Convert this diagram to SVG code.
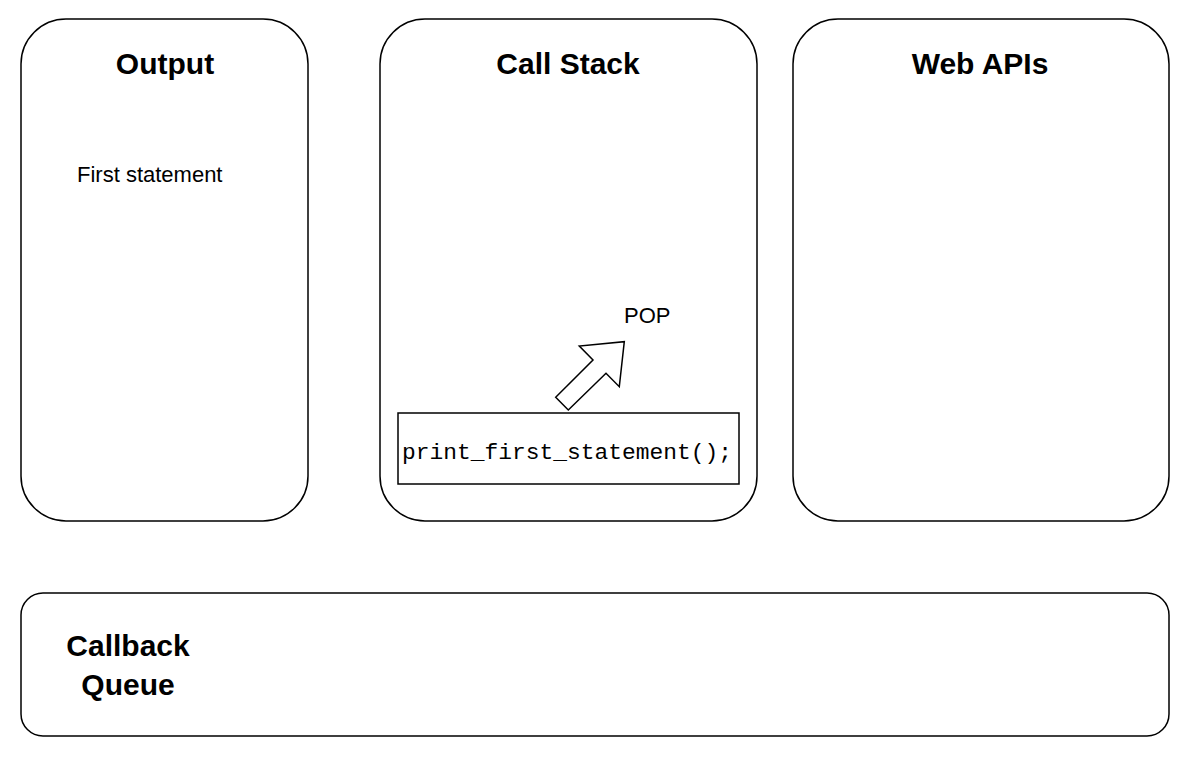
<svg xmlns="http://www.w3.org/2000/svg" width="1200" height="764" viewBox="0 0 1200 764">
<style>
.box{fill:#fff;stroke:#000;stroke-width:1.5}
.t{font-family:"Liberation Sans",Arial,sans-serif;fill:#000}
.h{font-size:30px;font-weight:bold;text-anchor:middle}
</style>
<rect width="1200" height="764" fill="#fff"/>
<g id="output"><rect class="box" x="21" y="19" width="287" height="502" rx="45"/><text class="t h" x="165" y="74">Output</text><text class="t" x="77" y="182" font-size="22">First statement</text></g>
<g id="callstack"><rect class="box" x="380" y="19" width="377" height="502" rx="45"/><text class="t h" x="568" y="74">Call Stack</text><text class="t" x="624" y="323" font-size="22">POP</text></g>
<g id="webapis"><rect class="box" x="793" y="19" width="376" height="502" rx="45"/><text class="t h" x="980" y="74">Web APIs</text></g>
<g id="queue"><rect class="box" x="21" y="593" width="1148" height="143" rx="22"/><text class="t h" x="128" y="656">Callback</text><text class="t h" x="128" y="695">Queue</text></g>
<g id="frame"><rect class="box" x="398" y="413" width="341" height="71"/><text x="402" y="459" font-family="'Liberation Mono',monospace" font-size="22.9" textLength="330">print_first_statement();</text></g>
<g id="connectors"><polygon class="box" points="555.7,397.3 593,360 579.3,346 624.3,341.7 619.3,386.7 606,373.3 568.3,410"/></g>
</svg>
